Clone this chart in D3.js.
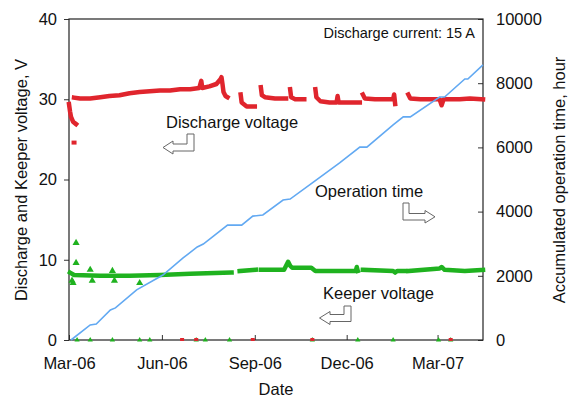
<!DOCTYPE html>
<html>
<head>
<meta charset="utf-8">
<script src="https://cdn.jsdelivr.net/npm/d3@7"></script>
<style>
  body { margin: 0; background: #fff; }
  svg { display: block; }
  text { font-family: "Liberation Sans", Arial, sans-serif; fill: #111; }
</style>
</head>
<body>
<svg id="chart" width="571" height="397"></svg>
<script>
// accumulated operation time, hour (right axis)
var operationTime = [
  ["2006-03-03", 0], ["2006-03-22", 470], ["2006-03-28", 500], ["2006-04-11", 935],
  ["2006-04-16", 1000], ["2006-05-07", 1560], ["2006-06-02", 2025], ["2006-06-22", 2555],
  ["2006-07-06", 2900], ["2006-07-12", 2990], ["2006-08-05", 3580], ["2006-08-19", 3580],
  ["2006-08-30", 3860], ["2006-09-09", 3895], ["2006-09-29", 4360], ["2006-10-06", 4390],
  ["2006-10-29", 4920], ["2006-11-24", 5515], ["2006-12-14", 6010], ["2006-12-21", 6010],
  ["2007-01-16", 6700], ["2007-01-26", 6950], ["2007-02-02", 6950], ["2007-03-03", 7570],
  ["2007-03-08", 7570], ["2007-03-28", 8130], ["2007-03-31", 8130], ["2007-04-15", 8570]
];

// discharge voltage, V (null = no data)
var dischargeVoltage = [
  ["2006-03-01", 29.4], ["2006-03-02", 28.5], ["2006-03-03", 27.8], ["2006-03-05", 27.2], ["2006-03-08", 26.9], null,
  ["2006-03-06", 30.2], ["2006-03-12", 30.1], ["2006-03-22", 30.1], ["2006-04-01", 30.25], ["2006-04-10", 30.4],
  ["2006-04-20", 30.5], ["2006-04-30", 30.75], ["2006-05-10", 30.9], ["2006-05-20", 31.0], ["2006-05-30", 31.1],
  ["2006-06-09", 31.1], ["2006-06-19", 31.25], ["2006-06-29", 31.25], ["2006-07-08", 31.4], ["2006-07-10", 32.3],
  ["2006-07-11", 31.4], ["2006-07-18", 31.6], ["2006-07-25", 31.9], ["2006-07-29", 32.5], ["2006-07-30", 32.75],
  ["2006-07-31", 31.9], ["2006-08-01", 30.9], ["2006-08-03", 30.4], ["2006-08-05", 30.25], null,
  ["2006-08-18", 30.6], ["2006-08-19", 29.6], ["2006-08-24", 29.1], ["2006-09-01", 29.1], null,
  ["2006-09-07", 31.5], ["2006-09-08", 30.5], ["2006-09-11", 30.25], ["2006-09-21", 30.1], ["2006-10-02", 30.1], null,
  ["2006-10-06", 31.25], ["2006-10-07", 30.25], ["2006-10-11", 30.0], ["2006-10-20", 30.0], null,
  ["2006-10-31", 31.25], ["2006-11-01", 30.25], ["2006-11-05", 29.75], ["2006-11-14", 29.6], ["2006-11-21", 29.6],
  ["2006-11-22", 30.4], ["2006-11-23", 29.6], ["2006-12-04", 29.6], ["2006-12-14", 29.6], null,
  ["2006-12-17", 30.6], ["2006-12-19", 30.1], ["2006-12-29", 30.0], ["2007-01-08", 30.0], ["2007-01-16", 30.0],
  ["2007-01-17", 30.6], ["2007-01-18", 29.4], null,
  ["2007-01-31", 30.6], ["2007-02-02", 30.1], ["2007-02-12", 30.0], ["2007-02-22", 30.0], ["2007-03-03", 30.0],
  ["2007-03-05", 29.25], ["2007-03-07", 30.0], ["2007-03-23", 30.0], ["2007-04-02", 30.1], ["2007-04-15", 30.0]
];
var dischargeOutliers = [["2006-03-06", 24.6]];
var dischargeZero = ["2006-06-21", "2006-07-05", "2006-08-30", "2006-10-28", "2007-03-14"];

// keeper voltage, V
var keeperVoltage = [
  ["2006-03-02", 8.4], ["2006-03-06", 8.1], ["2006-04-01", 8.0], ["2006-04-30", 8.0], ["2006-05-30", 8.1],
  ["2006-06-29", 8.25], ["2006-08-09", 8.4], null,
  ["2006-08-17", 8.6], ["2006-09-02", 8.75], null,
  ["2006-09-07", 8.75], ["2006-09-30", 8.75], ["2006-10-04", 9.75], ["2006-10-06", 9.25], ["2006-10-08", 9.0],
  ["2006-10-27", 9.0], ["2006-10-31", 8.6], ["2006-11-24", 8.6], ["2006-12-10", 8.6], ["2006-12-11", 9.1],
  ["2006-12-12", 8.6], null,
  ["2006-12-17", 8.75], ["2007-01-16", 8.6], ["2007-01-18", 8.4], ["2007-01-20", 8.6], ["2007-01-28", 8.6], null,
  ["2007-01-31", 8.6], ["2007-03-03", 8.9], ["2007-03-05", 9.1], ["2007-03-08", 8.75], ["2007-03-28", 8.6],
  ["2007-04-15", 8.75]
];
var keeperOutliers = [
  ["2006-03-08", 12.1], ["2006-03-08", 9.6], ["2006-03-05", 7.1], ["2006-03-04", 7.4], ["2006-03-22", 8.75],
  ["2006-03-24", 7.4], ["2006-04-13", 8.6], ["2006-04-15", 7.4], ["2006-05-10", 7.1]
];
var keeperZero = ["2006-03-09", "2006-03-22", "2006-04-13", "2006-05-10", "2006-05-20", "2006-07-05",
  "2006-07-14", "2006-08-07", "2006-10-28", "2006-12-12", "2007-01-16", "2007-03-02", "2007-03-14"];

var dateTicks = ["2006-03-01", "2006-06-01", "2006-09-01", "2006-12-01", "2007-03-01"];
var voltTicks = [0, 10, 20, 30, 40];
var hourTicks = [0, 2000, 4000, 6000, 8000, 10000];

var margin = {top: 19, left: 69, right: 88, bottom: 57},
	width = 571 - margin.left - margin.right,
	height = 397 - margin.top - margin.bottom;

var parse = d3.timeParse("%Y-%m-%d");
var red = "#e0252d", green = "#1fb21f", blue = "#62a9f2";

var svg = d3.select("#chart")
	.append("g")
	.attr("transform", "translate(" + margin.left + ", " + margin.top + ")");

var x = d3.scaleTime()
	.domain([parse("2006-03-01"), parse("2007-04-15")])
	.range([0, width]);
var y = d3.scaleLinear().domain([0, 40]).range([height, 0]);
var y2 = d3.scaleLinear().domain([0, 10000]).range([height, 0]);

// axes
var gx = svg.append("g")
	.attr("transform", "translate(0," + height + ")")
	.call(d3.axisBottom(x).tickValues(dateTicks.map(parse))
		.tickFormat(d3.timeFormat("%b-%y")).tickSizeInner(-5).tickSizeOuter(0).tickPadding(17));
var gy = svg.append("g")
	.call(d3.axisLeft(y).tickValues(voltTicks).tickSizeInner(5).tickSizeOuter(0).tickPadding(7));
var gy2 = svg.append("g")
	.attr("transform", "translate(" + width + ",0)")
	.call(d3.axisRight(y2).tickValues(hourTicks).tickFormat(d3.format("d"))
		.tickSizeInner(-5).tickSizeOuter(0).tickPadding(13));

[gx, gy, gy2].forEach(function(g) {
	g.select(".domain").remove();
	g.selectAll("line").attr("stroke", "#333");
	g.selectAll("text").attr("font-size", "16.5px").attr("fill", "#111")
		.attr("font-family", "'Liberation Sans', Arial, sans-serif");
});

svg.append("rect")
	.attr("width", width).attr("height", height)
	.attr("fill", "none").attr("stroke", "#222").attr("stroke-width", 1.2);

// data lines
function pt(d) { return d === null ? null : {date: parse(d[0]), v: d[1]}; }

var vLine = d3.line()
	.defined(function(d) { return d !== null; })
	.x(function(d) { return x(d.date); })
	.y(function(d) { return y(d.v); });

svg.append("path")
	.datum(keeperVoltage.map(pt))
	.attr("d", vLine)
	.attr("fill", "none").attr("stroke", green).attr("stroke-width", 4.5)
	.attr("stroke-linejoin", "round").attr("stroke-linecap", "square");

svg.selectAll(".kout")
	.data(keeperOutliers.map(pt))
	.enter()
	.append("path")
	.attr("class", "kout")
	.attr("d", d3.symbol().type(d3.symbolTriangle).size(22))
	.attr("transform", function(d) { return "translate(" + x(d.date) + "," + y(d.v) + ")"; })
	.attr("fill", green);

svg.selectAll(".kzero")
	.data(keeperZero.map(parse))
	.enter()
	.append("path")
	.attr("class", "kzero")
	.attr("d", d3.symbol().type(d3.symbolTriangle).size(12))
	.attr("transform", function(d) { return "translate(" + x(d) + "," + y(0) + ")"; })
	.attr("fill", green);

svg.append("path")
	.datum(dischargeVoltage.map(pt))
	.attr("d", vLine)
	.attr("fill", "none").attr("stroke", red).attr("stroke-width", 4.5)
	.attr("stroke-linejoin", "round").attr("stroke-linecap", "square");

svg.selectAll(".dout")
	.data(dischargeOutliers.map(pt))
	.enter()
	.append("rect")
	.attr("class", "dout")
	.attr("x", function(d) { return x(d.date) - 2.5; })
	.attr("y", function(d) { return y(d.v) - 2; })
	.attr("width", 5).attr("height", 4)
	.attr("fill", red);

svg.selectAll(".dzero")
	.data(dischargeZero.map(parse))
	.enter()
	.append("rect")
	.attr("class", "dzero")
	.attr("x", function(d) { return x(d) - 2; })
	.attr("y", y(0) - 2)
	.attr("width", 4).attr("height", 3)
	.attr("fill", red);

var hLine = d3.line()
	.x(function(d) { return x(parse(d[0])); })
	.y(function(d) { return y2(d[1]); });

svg.append("path")
	.datum(operationTime)
	.attr("d", hLine)
	.attr("fill", "none").attr("stroke", blue).attr("stroke-width", 1.6);

// axis titles
var root = d3.select("#chart");
root.append("text")
	.attr("x", 276).attr("y", 395)
	.attr("text-anchor", "middle").attr("font-size", "16.5px")
	.text("Date");
root.append("text")
	.attr("transform", "translate(27,180) rotate(-90)")
	.attr("text-anchor", "middle").attr("font-size", "16.5px")
	.text("Discharge and Keeper voltage, V");
root.append("text")
	.attr("transform", "translate(565,180) rotate(-90)")
	.attr("text-anchor", "middle").attr("font-size", "16.5px")
	.text("Accumulated operation time, hour");

// annotations
root.append("text")
	.attr("x", 475).attr("y", 38)
	.attr("text-anchor", "end").attr("font-size", "14.5px")
	.text("Discharge current: 15 A");
root.append("text").attr("x", 166).attr("y", 128).attr("font-size", "16.5px").text("Discharge voltage");
root.append("text").attr("x", 315).attr("y", 197).attr("font-size", "16.5px").text("Operation time");
root.append("text").attr("x", 323).attr("y", 299).attr("font-size", "16.5px").text("Keeper voltage");

var arrows = [
	[[187,134],[194,134],[194,151],[173,151],[173,154],[163,147.5],[173,141],[173,144],[187,144]],
	[[403,203],[409,203],[409,213.5],[425,213.5],[425,210.5],[435,216.8],[425,223],[425,220],[403,220]],
	[[344,306],[351,306],[351,321.5],[330,321.5],[330,324.5],[319.5,318],[330,311.5],[330,314.5],[344,314.5]]
];
root.selectAll(".arrow")
	.data(arrows)
	.enter()
	.append("polygon")
	.attr("class", "arrow")
	.attr("points", function(d) { return d.join(" "); })
	.attr("fill", "#fff").attr("stroke", "#666").attr("stroke-width", 1);
</script>
</body>
</html>
